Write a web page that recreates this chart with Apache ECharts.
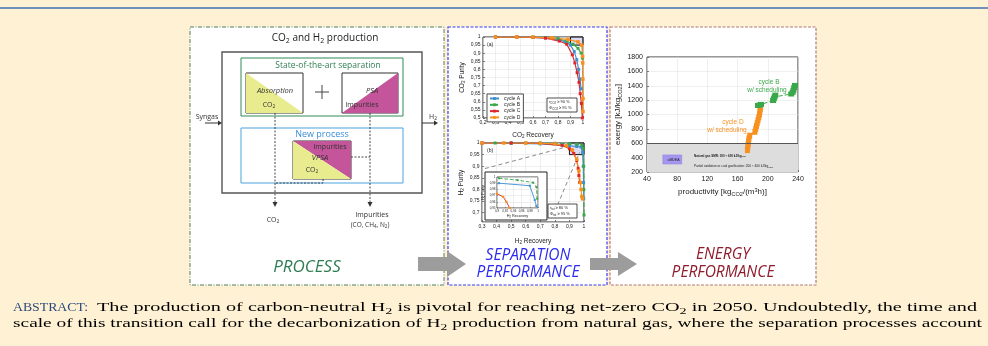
<!DOCTYPE html>
<html><head><meta charset="utf-8">
<script src="https://cdn.jsdelivr.net/npm/echarts@6/dist/echarts.min.js"></script>
<style>html,body{margin:0;padding:0;background:#fff2d4}#c{width:988px;height:346px}</style>
</head><body><div id="c"></div>
<script>
// ---------------- DATA ----------------
const cycleNames = ['cycle A', 'cycle B', 'cycle C', 'cycle D'];
// (a) CO2 purity vs CO2 recovery
const co2RecTicks = [0.2, 1, 0.1];      // min, max, step
const co2PurTicks = [0.5, 1, 0.05];
const co2A = [[0.3,1],[0.47,1],[0.6,0.998],[0.7,0.995],[0.8,0.985],[0.86,0.97],[0.9,0.95],[0.93,0.91],[0.95,0.86],[0.965,0.8],[0.975,0.74],[0.985,0.68]];
const co2B = [[0.3,1],[0.47,1],[0.6,0.999],[0.7,0.997],[0.8,0.99],[0.87,0.975],[0.92,0.955],[0.96,0.93],[0.985,0.9],[0.995,0.87]];
const co2C = [[0.3,1],[0.47,1],[0.6,0.998],[0.7,0.993],[0.81,0.975],[0.87,0.955],[0.915,0.89],[0.935,0.84],[0.953,0.78],[0.968,0.72],[0.978,0.65],[0.987,0.59],[0.995,0.5]];
const co2D = [[0.3,1],[0.47,1],[0.6,0.999],[0.75,0.995],[0.88,0.985],[0.96,0.97],[0.99,0.95],[0.997,0.88],[0.998,0.84],[0.999,0.74],[1.0,0.62],[1.0,0.54]];
const co2Target = [[0.9,0.95],[1,1]];
// (b) H2 purity vs H2 recovery
const h2RecRange = [0.3, 1];
const h2PurRange = [0.66, 1];
const h2A = [[0.3,1],[0.5,0.999],[0.7,0.996],[0.85,0.99],[0.9,0.988],[0.95,0.985],[0.98,0.983],[0.99,0.96],[0.995,0.9],[0.997,0.83],[0.998,0.76]];
const h2B = [[0.39,1],[0.5,1],[0.6,1],[0.7,1],[0.8,0.999],[0.9,0.997],[0.95,0.995],[0.985,0.99],[0.995,0.975],[0.998,0.9],[0.999,0.8],[1,0.69]];
const h2C = [[0.3,1],[0.5,1],[0.7,0.998],[0.85,0.99],[0.9,0.975],[0.93,0.955],[0.95,0.925],[0.96,0.89],[0.965,0.86],[0.97,0.83]];
const h2D = [[0.3,1],[0.45,1],[0.6,1],[0.7,0.999],[0.8,0.996],[0.88,0.988],[0.92,0.97],[0.95,0.93],[0.965,0.88],[0.975,0.83],[0.98,0.8],[0.985,0.77],[0.99,0.76]];
const h2Target = [[0.9,0.95],[1,1]];
const zoomLine1 = [[0.32,0.89],[0.89,0.985]];
const zoomLine2 = [[0.8,0.705],[0.97,0.96]];
// inset of (b)
const insetRecRange = [0.9, 1];
const insetPurRange = [0.95, 1];
const insetA = [[0.905,0.99],[0.98,0.986],[0.992,0.963],[0.996,0.953]];
const insetB = [[0.905,0.998],[0.95,0.995],[0.988,0.991],[0.996,0.984],[0.998,0.965]];
const insetC = [[0.9,0.973],[0.915,0.968],[0.923,0.96],[0.931,0.95]];
// energy chart
const prodTicks = [40, 80, 120, 160, 200, 240];
const exergyTicks = [200, 400, 600, 800, 1000, 1200, 1400, 1600, 1800];
const refBand = [200, 600];
const amdeaX = [61, 86];
const amdeaY = [311, 437];
const cycBsched = [[187,1125],[189,1132],[191,1140],[207,1195],[208,1220],[209,1245],[210,1270],[231,1285],[233,1310],[234,1340],[235,1375],[236,1405]];
const cycDsched = [[173,505],[173.5,545],[174,585],[174.5,625],[175,665],[176,705],[183,760],[184,800],[185,840],[186,880],[187,920],[188,960],[189,1000],[189.5,1040],[190,1075],[190.5,1105]];

// ---------------- HELPERS ----------------
const DIA = 'Open Sans', CH = 'Liberation Sans', SER = 'Liberation Serif';
const cA = '#3d8fd1', cB = '#3aa84a', cC = '#e0262a', cD = '#f7901e';
function segs(str) {
  const out = []; const re = /([_^])\{([^}]*)\}/g; let last = 0, m;
  while ((m = re.exec(str))) {
    if (m.index > last) out.push([str.slice(last, m.index), 'n']);
    out.push([m[2], m[1] === '_' ? 's' : 'p']); last = re.lastIndex;
  }
  if (last < str.length) out.push([str.slice(last), 'n']);
  return out;
}
function rich(str) { return segs(str).map(s => '{' + s[1] + '|' + s[0] + '}').join(''); }
function richStyle(size, color, fam, o) {
  o = o || {};
  const base = {fontSize: size, fontFamily: fam, fill: color, color: color,
    fontStyle: o.italic ? 'italic' : 'normal', fontWeight: o.bold ? 'bold' : 'normal',
    lineHeight: size * 1.25, verticalAlign: 'middle'};
  return {
    n: base,
    s: Object.assign({}, base, {fontSize: size * 0.7, lineHeight: size * 0.7, verticalAlign: 'bottom'}),
    p: Object.assign({}, base, {fontSize: size * 0.7, lineHeight: size * 0.7, verticalAlign: 'top'})
  };
}
const mc = document.createElement('canvas').getContext('2d');
function measure(str, size, fam, o) {
  o = o || {}; let w = 0;
  segs(str).forEach(s => {
    const fs = s[1] === 'n' ? size : size * 0.7;
    mc.font = (o.italic ? 'italic ' : '') + (o.bold ? 'bold ' : '') + fs + 'px ' + fam;
    w += mc.measureText(s[0]).width;
  });
  return w;
}
const G = [];
function T(x, y, str, size, color, o) {
  o = o || {}; const fam = o.family || DIA;
  G.push({type: 'text', x: x, y: y, z: o.z || 50, rotation: o.rot || 0, scaleX: o.sx || 1, silent: true,
    style: {text: rich(str), rich: richStyle(size, color, fam, o), fill: color, fontSize: size, fontFamily: fam,
      align: o.align || 'center', verticalAlign: 'middle'}});
}
function R(x, y, w, h, fill, stroke, lw, dash, z) {
  G.push({type: 'rect', z: z == null ? 20 : z, silent: true, shape: {x: x, y: y, width: w, height: h},
    style: {fill: fill || 'none', stroke: stroke || null, lineWidth: lw || 1, lineDash: dash || null}});
}
function L(x1, y1, x2, y2, stroke, lw, dash, z) {
  G.push({type: 'line', z: z == null ? 30 : z, silent: true, shape: {x1: x1, y1: y1, x2: x2, y2: y2},
    style: {stroke: stroke, lineWidth: lw || 1, lineDash: dash || null}});
}
function PL(pts, stroke, lw, dash, z) {
  G.push({type: 'polyline', z: z == null ? 30 : z, silent: true, shape: {points: pts},
    style: {stroke: stroke, fill: 'none', lineWidth: lw || 1, lineDash: dash || null}});
}
function P(pts, fill, z) {
  G.push({type: 'polygon', z: z == null ? 25 : z, silent: true, shape: {points: pts}, style: {fill: fill}});
}
const comma = v => String(Math.round(v * 1000) / 1000).replace('.', ',');

// ---------------- STATIC DRAWING ----------------
L(0, 8, 988, 8, '#7191bb', 2, null, 5);
// panels
R(190, 27, 254, 258, '#ffffff', '#4c7f5e', 1, [4, 1.5, 1, 1.5], -10);
R(448, 27, 159, 258, '#ffffff', '#3b3bf2', 1.2, [3, 1.5], -10);
R(610, 27, 206, 258, '#ffffff', '#b27a7a', 1.2, [3, 1.5], -10);

// process diagram
T(325, 38, 'CO_{2} and H_{2} production', 10, '#222');
R(222, 52, 200, 141, 'none', '#555', 1.4);
R(241, 58, 162, 58, 'none', '#2e8b57', 1);
T(328, 66, 'State-of-the-art separation', 8.5, '#2f7f52');
P([[246, 73], [246, 113], [303, 113]], '#e9ec8e');
R(246, 73, 57, 40, 'none', '#333', 1);
T(275, 91, 'Absorption', 7.5, '#333', {italic: true});
T(269, 105, 'CO_{2}', 7, '#333');
L(315, 92, 329, 92, '#444', 1); L(322, 85, 322, 99, '#444', 1);
P([[398, 73], [398, 113], [342, 113]], '#c4559a');
R(342, 73, 56, 40, 'none', '#333', 1);
T(372, 91, 'PSA', 7.5, '#333', {italic: true});
T(362, 105, 'Impurities', 7, '#333');
R(241, 128, 162, 55, 'none', '#4aa3df', 1);
T(322, 134, 'New process', 9, '#3b8fd8');
P([[293, 141], [351, 141], [351, 179]], '#c4559a');
P([[293, 141], [293, 179], [351, 179]], '#e9ec8e');
R(293, 141, 58, 38, 'none', '#333', 1);
T(330, 147, 'Impurities', 7, '#333');
T(320, 158, 'VPSA', 7.5, '#333', {italic: true});
T(312, 170, 'CO_{2}', 7, '#333');
// flows
T(207, 117, 'Syngas', 7, '#333');
L(205, 123, 219, 123, '#333', 1); P([[218, 120.5], [222, 123], [218, 125.5]], '#333', 31);
T(433, 117, 'H_{2}', 7, '#333');
L(422, 123, 435, 123, '#333', 1); P([[434, 120.5], [438, 123], [434, 125.5]], '#333', 31);
L(275, 113, 275, 203, '#333', 0.9, [2, 1.5]); P([[272.5, 202], [275, 207], [277.5, 202]], '#333', 31);
L(370, 113, 370, 203, '#333', 0.9, [2, 1.5]); P([[367.5, 202], [370, 207], [372.5, 202]], '#333', 31);
L(351, 157, 370, 157, '#333', 0.9, [2, 1.5]);
PL([[323, 179], [323, 183], [275, 183]], '#333', 0.9, [2, 1.5]);
T(273, 220, 'CO_{2}', 7, '#333');
T(372, 215, 'Impurities', 7, '#333');
T(370, 225, '(CO, CH_{4}, N_{2})', 6.5, '#333');
T(307, 267, 'PROCESS', 17, '#2f7d52', {italic: true});

// separation panel annotations
T(487, 45, '(a)', 5, '#222', {family: CH, align: 'left', z: 10});
R(547, 98, 30, 14, '#fff', '#222', 0.8, null, 10);
T(549, 102.3, 'r_{CO2} ≥ 90 %', 4, '#222', {family: CH, align: 'left', z: 11});
T(549, 108.3, 'Φ_{CO2} ≥ 95 %', 4, '#222', {family: CH, align: 'left', z: 11});
T(487, 151, '(b)', 5, '#222', {family: CH, align: 'left', z: 10});
R(485, 172, 62, 48, '#fff', '#222', 1, null, 3);
R(548, 204, 29, 14, '#fff', '#222', 0.8, null, 10);
T(550, 208.3, 'r_{tot} ≥ 80 %', 4, '#222', {family: CH, align: 'left', z: 11});
T(550, 214.3, 'Φ_{tot} ≥ 95 %', 4, '#222', {family: CH, align: 'left', z: 11});
T(528, 256, 'SEPARATION', 15.5, '#2b2bef', {italic: true});
T(528, 273, 'PERFORMANCE', 15.5, '#2b2bef', {italic: true});

// energy annotations
T(769, 82, 'cycle B', 6.5, cB, {family: CH});
T(767, 90, 'w/ scheduling', 6.5, cB, {family: CH});
T(733, 122, 'cycle D', 6.5, cD, {family: CH});
T(727, 130, 'w/ scheduling', 6.5, cD, {family: CH});
T(694, 156, 'Natural gas SMR: 300 ÷ 600 kJ/kg_{CO2}', 3, '#222', {family: CH, align: 'left', bold: true});
T(694, 166, 'Partial oxidation or coal gasification: 200 ÷ 400 kJ/kg_{CO2}', 3.2, '#222', {family: CH, align: 'left'});
T(673.5, 160, 'aMDEA', 3.5, '#222', {family: CH});
T(723, 255, 'ENERGY', 15.5, '#8f1c2c', {italic: true});
T(723, 273, 'PERFORMANCE', 15.5, '#8f1c2c', {italic: true});

// arrows
P([[418, 257], [447, 257], [447, 251], [466, 264], [447, 277], [447, 271], [418, 271]], '#9c9c9c', 60);
P([[590, 258], [618, 258], [618, 252], [637, 264], [618, 276], [618, 270], [590, 270]], '#9c9c9c', 60);

// abstract
function fitText(x, y, x2, str, size, color) {
  const s = (x2 - x) / measure(str, size, SER);
  T(x, y, str, size, color, {family: SER, align: 'left', sx: s});
}
fitText(13, 308, 88, 'ABSTRACT:', 13, '#2c4b7c');
fitText(97, 308, 977, 'The production of carbon-neutral H_{2} is pivotal for reaching net-zero CO_{2} in 2050. Undoubtedly, the time and', 13, '#000');
fitText(13, 324, 982, 'scale of this transition call for the decarbonization of H_{2} production from natural gas, where the separation processes account', 13, '#000');

// ---------------- CHART ----------------
function ax(o) {
  const size = o.fs || 5;
  return Object.assign({
    type: 'value', gridIndex: o.g,
    axisLine: {show: false},
    axisTick: {inside: true, length: 2, lineStyle: {color: '#333', width: 0.6}},
    axisLabel: {fontSize: size, fontFamily: CH, color: '#222', margin: o.margin || 2.5, formatter: o.fmt || comma},
    splitLine: {lineStyle: {color: '#e4e4e4', width: 0.6}},
    nameLocation: 'middle',
    nameTextStyle: {fontSize: o.nfs || 6.5, fontFamily: CH, color: '#222', rich: richStyle(o.nfs || 6.5, '#222', CH)}
  }, o.extra);
}
function lineS(name, data, color, xi, extra) {
  return Object.assign({
    type: 'line', name: name, data: data, xAxisIndex: xi, yAxisIndex: xi,
    symbol: 'rect', symbolSize: 3, showSymbol: true, silent: true,
    lineStyle: {color: color, width: 1.2}, itemStyle: {color: color}
  }, extra || {});
}
const targetArea = (t) => ({silent: true,
  itemStyle: {color: 'rgba(175,175,235,0.45)', borderColor: '#111', borderWidth: 1},
  data: [[{coord: t[0]}, {coord: t[1]}]]});

const option = {
  backgroundColor: '#fff2d4',
  animation: false,
  grid: [
    {left: 483, top: 37, width: 100, height: 81, show: true, borderColor: '#222', borderWidth: 1, backgroundColor: 'transparent'},
    {left: 482, top: 143, width: 102, height: 79, show: true, borderColor: '#222', borderWidth: 1, backgroundColor: 'transparent'},
    {left: 497, top: 177, width: 41, height: 31, show: true, borderColor: '#222', borderWidth: 0.8, backgroundColor: 'transparent', z: 4},
    {left: 647, top: 57, width: 151, height: 115, show: true, borderColor: '#333', borderWidth: 1, backgroundColor: 'transparent'}
  ],
  xAxis: [
    ax({g: 0, extra: {min: co2RecTicks[0], max: co2RecTicks[1], interval: co2RecTicks[2], name: rich('CO_{2} Recovery'), nameGap: 13}}),
    ax({g: 1, extra: {min: h2RecRange[0], max: h2RecRange[1], interval: 0.1, name: rich('H_{2} Recovery'), nameGap: 15}}),
    ax({g: 2, fs: 3, nfs: 3.8, margin: 1.5, extra: {z: 5, min: insetRecRange[0], max: insetRecRange[1], splitNumber: 5, name: rich('H_{2} Recovery'), nameGap: 6, axisTick: {inside: true, length: 1, lineStyle: {color: '#333', width: 0.5}}}}),
    ax({g: 3, fs: 7, nfs: 8, margin: 4, fmt: v => String(v), extra: {min: prodTicks[0], max: prodTicks[prodTicks.length - 1], interval: prodTicks[1] - prodTicks[0], name: rich('productivity [kg_{CO2}/(m^{3}h)]'), nameGap: 15}})
  ],
  yAxis: [
    ax({g: 0, extra: {min: co2PurTicks[0], max: co2PurTicks[1], interval: co2PurTicks[2], name: rich('CO_{2} Purity'), nameGap: 17}}),
    ax({g: 1, extra: {min: h2PurRange[0], max: h2PurRange[1], splitNumber: 5, name: rich('H_{2} Purity'), nameGap: 17}}),
    ax({g: 2, fs: 3, nfs: 3.8, margin: 1.5, extra: {z: 5, min: insetPurRange[0], max: insetPurRange[1], splitNumber: 5, name: rich('H_{2} Purity'), nameGap: 8, axisTick: {inside: true, length: 1, lineStyle: {color: '#333', width: 0.5}}}}),
    ax({g: 3, fs: 7, nfs: 8, margin: 4, fmt: v => String(v), extra: {min: exergyTicks[0], max: exergyTicks[exergyTicks.length - 1], interval: exergyTicks[1] - exergyTicks[0], name: rich('exergy [kJ/kg_{CO2}]'), nameGap: 24}})
  ],
  legend: {
    data: cycleNames, left: 487, top: 94, orient: 'vertical', itemWidth: 9, itemHeight: 3.5, itemGap: 1.3,
    padding: [2, 3, 2, 2], backgroundColor: '#fff', borderColor: '#222', borderWidth: 0.8,
    textStyle: {fontSize: 5, fontFamily: CH, color: '#222'}, selectedMode: false
  },
  graphic: {elements: G},
  series: [
    lineS('cycle A', co2A, cA, 0),
    lineS('cycle B', co2B, cB, 0, {lineStyle: {color: cB, width: 1.2, type: 'dashed'}}),
    lineS('cycle C', co2C, cC, 0),
    lineS('cycle D', co2D, cD, 0, {symbolSize: 3.5, markArea: targetArea(co2Target)}),

    {type: 'line', data: zoomLine1, xAxisIndex: 1, yAxisIndex: 1, symbol: 'none', silent: true, lineStyle: {color: '#8a8a8a', width: 1, type: [4, 3]}},
    {type: 'line', data: zoomLine2, xAxisIndex: 1, yAxisIndex: 1, symbol: 'none', silent: true, lineStyle: {color: '#8a8a8a', width: 1, type: [4, 3]}},
    lineS('cycle A', h2A, cA, 1),
    lineS('cycle B', h2B, cB, 1, {lineStyle: {color: cB, width: 1.2, type: 'dashed'}}),
    lineS('cycle C', h2C, cC, 1),
    lineS('cycle D', h2D, cD, 1, {symbolSize: 3.5, markArea: targetArea(h2Target)}),

    lineS('cycle A', insetA, cA, 2, {z: 6, symbolSize: 2, lineStyle: {color: cA, width: 0.9}}),
    lineS('cycle B', insetB, cB, 2, {z: 6, symbolSize: 2, lineStyle: {color: cB, width: 0.9, type: 'dashed'}}),
    lineS('cycle C', insetC, cC, 2, {z: 6, symbolSize: 2.2, itemStyle: {color: cD}, lineStyle: {color: cC, width: 0.9}}),

    {type: 'line', name: 'cycle D w/ scheduling', data: cycDsched, xAxisIndex: 3, yAxisIndex: 3, silent: true,
      symbol: 'rect', symbolSize: [5, 6], lineStyle: {color: cD, width: 2}, itemStyle: {color: cD},
      markArea: {silent: true, data: [
        [{yAxis: refBand[0], itemStyle: {color: '#dddddd'}}, {yAxis: refBand[1]}],
        [{coord: [amdeaX[0], amdeaY[0]], itemStyle: {color: '#a597f0', borderColor: '#8c7ce0', borderWidth: 0.5}}, {coord: [amdeaX[1], amdeaY[1]]}]
      ]},
      markLine: {silent: true, symbol: 'none', label: {show: false}, lineStyle: {color: '#555', width: 1, type: 'solid'}, data: [{yAxis: refBand[1]}]}},
    {type: 'line', name: 'cycle B w/ scheduling', data: cycBsched, xAxisIndex: 3, yAxisIndex: 3, silent: true,
      symbol: 'rect', symbolSize: [6, 5], lineStyle: {color: cB, width: 1, type: 'dashed'}, itemStyle: {color: cB}}
  ]
};
// hide min label of H2 purity axis (0.66)
option.yAxis[1].axisLabel.showMinLabel = false;

const chart = echarts.init(document.getElementById('c'), null, {renderer: 'canvas', width: 988, height: 346});
chart.setOption(option);
</script>
</body></html>
